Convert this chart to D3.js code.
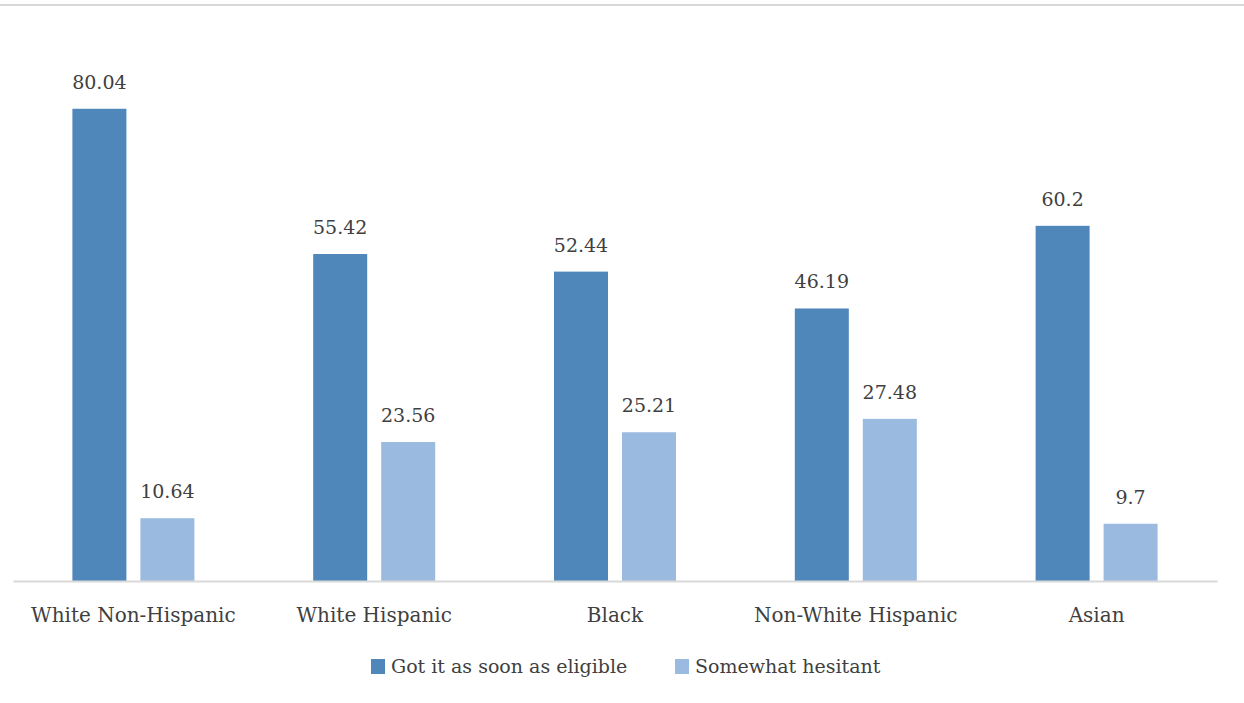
<!DOCTYPE html>
<html><head><meta charset="utf-8">
<script src="https://cdn.jsdelivr.net/npm/d3@7"></script>
<style>body{margin:0;background:#fff}svg{display:block}svg text{font-family:"DejaVu Serif",serif}</style>
</head><body>
<svg id="c" width="1244" height="703"></svg>
<script>
const categories = ["White Non-Hispanic","White Hispanic","Black","Non-White Hispanic","Asian"];
const seriesNames = ["Got it as soon as eligible","Somewhat hesitant"];
const gotItValues = [80.04,55.42,52.44,46.19,60.2];
const hesitantValues = [10.64,23.56,25.21,27.48,9.7];
const colors = ["#4F87BB","#9ABADF"];

const svg = d3.select("#c");
const fs = 19;
const textColor = "#404040";

svg.append("rect").attr("x",0).attr("y",4).attr("width",1244).attr("height",2).attr("fill","#d9d9d9");

const x = d3.scaleBand().domain(categories).range([13,1217]);
const y = d3.scaleLinear().domain([0,90]).range([581,50]);
const barW = 54, gap = 14;

const data = categories.map((c,i)=>({c, v:[gotItValues[i], hesitantValues[i]]}));
const g = svg.append("g");
data.forEach(d=>{
  const cx = x(d.c) + x.bandwidth()/2;
  d.v.forEach((v,j)=>{
    const bx = j===0 ? cx - gap/2 - barW : cx + gap/2;
    g.append("rect").attr("x",bx).attr("y",y(v)).attr("width",barW).attr("height",y(0)-y(v)).attr("fill",colors[j]);
    g.append("text").attr("x",bx+barW/2).attr("y",y(v)-20).attr("text-anchor","middle")
      .style("font-size",fs+"px").attr("fill",textColor).text(v);
  });
});

const axis = svg.append("g").attr("transform",`translate(0,${y(0)})`)
  .call(d3.axisBottom(x).tickSize(0).tickPadding(27));
axis.attr("font-family",null);
axis.select(".domain").attr("stroke","#d9d9d9").attr("stroke-width",2);
axis.selectAll("text").style("font-size","20px").attr("fill",textColor);

const leg = svg.append("g");
const legX = [371, 675];
seriesNames.forEach((s,i)=>{
  leg.append("rect").attr("x",legX[i]).attr("y",659).attr("width",14).attr("height",15).attr("fill",colors[i]);
  leg.append("text").attr("x",legX[i]+20).attr("y",673).style("font-size",fs+"px")
    .attr("fill",textColor).text(s);
});
</script>
</body></html>
